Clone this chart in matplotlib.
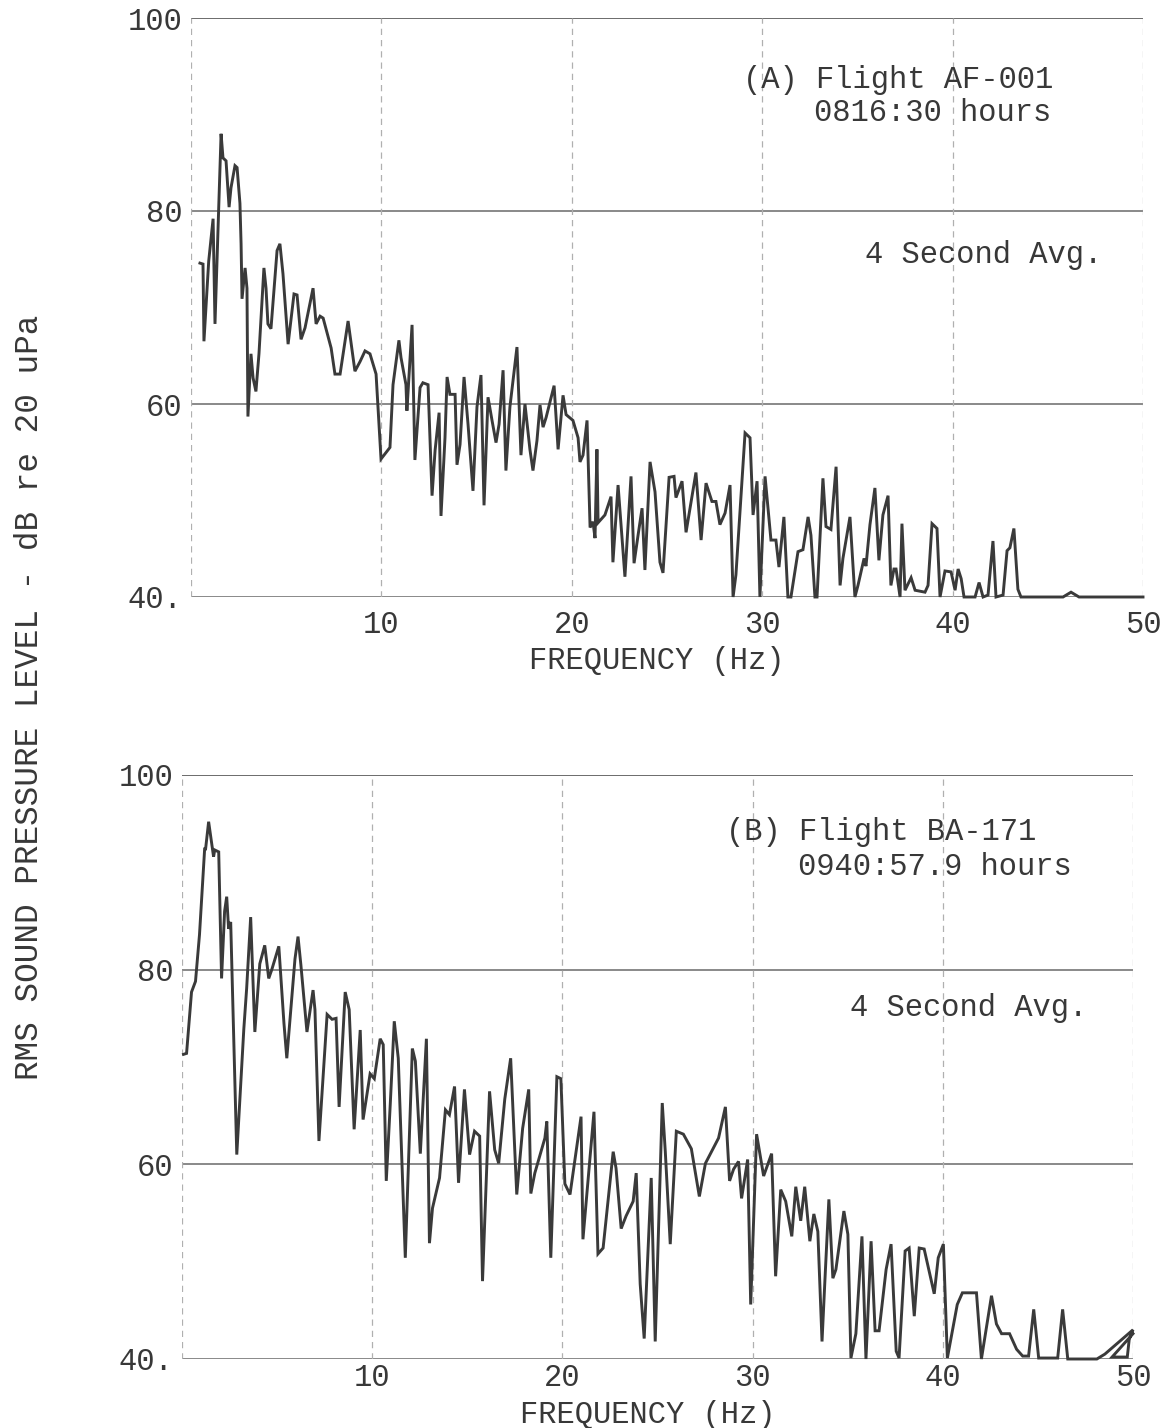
import matplotlib
matplotlib.use("Agg")
import matplotlib.pyplot as plt

# --- spectrum (A): Flight AF-001, 0816:30 hours ---
freq_a = [0.47, 0.63, 0.68, 0.93, 1.16, 1.26, 1.58, 1.68, 1.84, 2.0, 2.1, 2.31, 2.42, 2.57, 2.63,
          2.68, 2.84, 2.94, 2.99, 3.15, 3.26, 3.41, 3.57, 3.83, 3.94, 4.04, 4.2, 4.52, 4.67, 4.83,
          5.1, 5.41, 5.57, 5.78, 5.99, 6.41, 6.57, 6.78, 6.94, 7.36, 7.56, 7.83, 8.25, 8.61, 8.88,
          9.14, 9.4, 9.72, 9.98,
          10.45, 10.61, 10.92, 11.03, 11.29, 11.34, 11.61, 11.76, 12.03, 12.18, 12.45, 12.66, 12.82,
          13.03, 13.13, 13.34, 13.45, 13.6, 13.87, 13.97, 14.13, 14.34, 14.55, 14.81, 15.02, 15.23,
          15.39, 15.6, 15.81, 16.02, 16.18, 16.39, 16.54, 16.75, 17.12, 17.33, 17.54, 17.8, 17.96,
          18.17, 18.33, 18.49, 18.65, 19.07, 19.28, 19.54, 19.7, 20.06,
          20.33, 20.43, 20.59, 20.8, 20.96, 21.11, 21.22, 21.32, 21.38, 21.74, 22.06, 22.16, 22.43,
          22.79, 23.11, 23.27, 23.48, 23.69, 23.84, 24.11, 24.37, 24.63, 24.79, 25.11, 25.37, 25.47,
          25.79, 26.0, 26.52, 26.79, 27.05, 27.36, 27.57, 27.78, 28.05, 28.31, 28.47, 28.62, 29.1,
          29.36, 29.52, 29.73, 29.88, 30.15,
          30.46, 30.72, 30.88, 31.14, 31.35, 31.51, 31.88, 32.14, 32.41, 32.56, 32.77, 32.88, 33.19,
          33.35, 33.61, 33.88, 34.09, 34.24, 34.61, 34.87, 35.03, 35.35, 35.45, 35.66, 35.92, 36.13,
          36.34, 36.61, 36.76, 36.92, 37.03, 37.24, 37.34, 37.5, 37.82, 38.03, 38.55, 38.71, 38.92,
          39.18, 39.34, 39.6,
          39.92, 40.13, 40.29, 40.45, 40.6, 41.18, 41.39, 41.6, 41.86, 42.12, 42.28, 42.65, 42.86,
          43.01, 43.22, 43.43, 43.59, 45.8, 46.22, 46.64, 50.0]
level_a = [74.6, 74.5, 66.5, 74.8, 79.2, 68.3, 88.0, 85.5, 85.2, 80.4, 82.4, 84.7, 84.5, 80.8, 76.6,
           70.9, 74.1, 72.0, 58.7, 65.2, 62.7, 61.3, 65.2, 74.1, 72.0, 68.3, 67.8, 75.9, 76.6, 73.5,
           66.2, 71.4, 71.3, 66.7, 67.9, 72.0, 68.3, 69.1, 68.9, 65.8, 63.1, 63.1, 68.6, 63.4, 64.4,
           65.5, 65.2, 63.1, 54.3,
           55.5, 62.0, 66.6, 64.8, 62.0, 59.3, 68.2, 54.2, 61.7, 62.2, 62.0, 50.5, 55.2,
           59.1, 48.4, 56.5, 62.8, 61.0, 61.0, 53.7, 55.8, 62.8, 57.9, 51.0, 59.7, 63.0,
           49.5, 60.7, 58.3, 56.0, 57.9, 63.5, 53.1, 59.7, 65.9, 54.7, 60.0, 55.3, 53.1,
           56.2, 59.9, 57.6, 58.6, 61.9, 55.3, 60.9, 58.9, 58.3,
           56.5, 54.0, 54.7, 58.3, 47.2, 47.8, 46.1, 55.3, 47.7, 48.5, 50.4, 43.6, 51.6,
           42.1, 52.5, 43.5, 46.4, 49.2, 42.8, 54.0, 50.9, 43.6, 42.5, 52.4, 52.5, 50.3,
           52.0, 46.7, 52.9, 45.9, 51.8, 49.9, 49.9, 47.5, 48.7, 51.6, 40.0, 42.3, 57.0,
           56.5, 48.5, 52.0, 40.0, 52.5,
           45.9, 45.9, 43.1, 48.3, 40.0, 40.0, 44.7, 44.9, 48.3, 46.4, 40.0, 40.0, 52.3,
           47.3, 47.0, 53.5, 41.2, 44.0, 48.3, 40.0, 41.2, 44.0, 43.2, 47.5, 51.3, 43.8,
           48.5, 50.5, 41.2, 42.9, 42.9, 40.0, 47.6, 40.7, 42.0, 40.7, 40.5, 41.2, 47.6,
           47.1, 40.0, 42.7,
           42.6, 40.7, 42.9, 41.9, 40.0, 40.0, 41.5, 40.0, 40.2, 45.8, 40.0, 40.2, 44.8,
           45.1, 47.1, 40.8, 40.0, 40.0, 40.5, 40.0, 40.0]

# --- spectrum (B): Flight BA-171, 0940:57.9 hours ---
freq_b = [0.08, 0.24, 0.5, 0.71, 0.92, 1.19, 1.24, 1.4, 1.66, 1.72, 1.93, 2.08, 2.24, 2.35, 2.45,
          2.56, 2.88, 3.25, 3.4, 3.61, 3.83, 4.09, 4.35, 4.56, 4.72, 5.09, 5.36, 5.51, 5.94, 6.1,
          6.25, 6.57, 6.89, 6.99, 7.2, 7.63, 7.89, 8.1, 8.26, 8.58, 8.79, 9.05, 9.37, 9.52, 9.89,
          10.11, 10.42, 10.58, 10.74, 10.95, 11.16, 11.37, 11.74, 12.11, 12.27, 12.53, 12.85, 13.01,
          13.17, 13.54, 13.85, 14.06, 14.33, 14.54, 14.85, 15.12, 15.38, 15.65, 15.8, 16.17, 16.44,
          16.65, 16.97, 17.28, 17.6, 17.91, 18.23, 18.34, 18.55, 19.08, 19.18, 19.39, 19.71, 19.92,
          20.13, 20.4, 20.98, 21.08, 21.66, 21.87, 22.14, 22.67, 22.82, 23.09, 23.35, 23.72, 23.88,
          24.09, 24.3, 24.67, 24.88, 25.25, 25.41, 25.67, 25.99, 26.36, 26.78, 27.2, 27.52, 28.21,
          28.57, 28.79, 29.0, 29.26, 29.42, 29.74, 29.9, 30.21,
          30.58, 31.0, 31.21, 31.48, 31.74, 32.06, 32.27, 32.53, 32.74, 33.01, 33.22, 33.43, 33.65,
          33.8, 34.01, 34.22, 34.38, 34.8, 35.01, 35.17, 35.43, 35.75, 35.96, 36.23, 36.44, 36.65,
          37.02, 37.28, 37.55, 37.7, 38.02, 38.23, 38.5, 38.76, 39.02, 39.55, 39.76, 40.03, 40.24,
          40.76, 41.03, 41.77, 42.03, 42.56, 42.82, 43.09, 43.51, 43.88, 44.2, 44.51, 44.78, 45.04,
          46.04, 46.3, 46.57, 48.1, 48.52, 50.0, 49.8, 49.7, 48.9, 49.5, 50.0]
level_b = [71.3, 71.4, 77.7, 78.8, 83.6, 92.4, 92.4, 95.2, 91.6, 92.3, 92.1, 79.1, 86.0, 87.5, 84.2,
           84.9, 61.0, 73.9, 78.1, 85.4, 73.6, 80.6, 82.5, 79.1, 80.0, 82.4, 74.5, 70.9, 81.1, 83.4,
           80.5, 73.6, 77.9, 75.9, 62.4, 75.4, 74.9, 75.0, 65.9, 77.7, 75.9, 63.6, 73.8, 64.6, 69.3,
           68.8, 72.9, 72.3, 58.3, 66.2, 74.7, 70.9, 50.4, 71.9, 70.6, 61.1, 72.9, 51.9,
           55.5, 58.6, 65.6, 65.1, 68.0, 58.1, 67.7, 61.0, 63.4, 62.9, 48.0, 67.5, 61.5,
           60.1, 66.7, 70.9, 56.9, 63.7, 67.7, 57.0, 59.1, 62.7, 64.4, 50.4, 69.0, 68.8,
           58.0, 56.9, 64.9, 52.3, 65.4, 50.8, 51.4, 61.3, 59.6, 53.4, 54.7, 56.2, 59.1,
           47.7, 42.1, 58.6, 41.8, 66.3, 61.3, 51.8, 63.4, 63.1, 61.6, 56.7, 60.1, 62.7,
           65.9, 58.3, 59.5, 60.3, 56.5, 60.5, 45.6, 63.1,
           58.8, 61.1, 48.5, 57.4, 56.2, 52.6, 57.7, 54.2, 57.7, 52.1, 54.9, 53.1, 41.8,
           48.0, 56.4, 48.3, 49.2, 55.2, 52.8, 40.1, 42.6, 52.6, 40.0, 52.1, 42.9, 42.9,
           49.2, 51.8, 40.8, 40.1, 51.1, 51.4, 44.4, 51.4, 51.3, 46.7, 50.4, 51.8, 40.1,
           45.6, 46.8, 46.8, 40.0, 46.5, 43.6, 42.6, 42.6, 41.0, 40.3, 40.3, 45.1, 40.1,
           40.1, 45.1, 40.0, 40.0, 40.5, 43.0, 42.0, 40.2, 40.2, 41.5, 42.6]

x_ticks = [10, 20, 30, 40, 50]
y_ticks = [40, 60, 80, 100]
y_tick_labels = ["40.", "60", "80", "100"]

FONT = "Liberation Mono"
INK = "#3a3a3a"
TXT = "#383838"
FS = 22
W, H = 1163, 1428

fig = plt.figure(figsize=(W / 100, H / 100), dpi=100)
fig.patch.set_facecolor("white")


def px_axes(x0, x50, y100, y40):
    # axes box from pixel positions of the 0/50 Hz and 100/40 dB lines
    return fig.add_axes([x0 / W, 1 - y40 / H, (x50 - x0) / W, (y40 - y100) / H])


def draw_panel(ax, freq, level, notes, xpad):
    ax.set_xlim(0, 50)
    ax.set_ylim(40, 100)
    for s in ax.spines.values():
        s.set_visible(False)
    for yv in y_ticks:
        ax.axhline(yv, color="#6a6a6a" if yv != 100 else "#444444", lw=1.1, zorder=1)
    for xv in [0] + x_ticks:
        ax.axvline(xv, color="#b0b0b0", lw=0.9, ls=(0, (5, 4)), zorder=1)
    ax.plot(freq, level, color=INK, lw=2.1, solid_joinstyle="miter", zorder=3, clip_on=False)
    ax.set_xticks(x_ticks)
    ax.set_xticklabels([str(t) for t in x_ticks])
    ax.set_yticks(y_ticks)
    ax.set_yticklabels(y_tick_labels)
    ax.tick_params(length=0, labelsize=FS, labelcolor=TXT, pad=6)
    ax.tick_params(axis="x", pad=xpad)
    for lab in ax.get_xticklabels() + ax.get_yticklabels():
        lab.set_fontfamily(FONT)
    for x, y, s in notes:
        ax.text(x, y, s, fontsize=FS, family=FONT, color=TXT, va="center", ha="left")


ax_a = px_axes(191, 1143, 18, 597)
draw_panel(ax_a, freq_a, level_a,
           [(29.0, 93.6, "(A) Flight AF-001"),
            (32.7, 90.2, "0816:30 hours"),
            (35.4, 75.4, "4 Second Avg.")], xpad=9)

ax_b = px_axes(182, 1133, 775, 1359)
draw_panel(ax_b, freq_b, level_b,
           [(28.6, 94.1, "(B) Flight BA-171"),
            (32.4, 90.5, "0940:57.9 hours"),
            (35.1, 76.1, "4 Second Avg.")], xpad=3)

fig.text(657 / W, 1 - 661 / H, "FREQUENCY (Hz)", ha="center", va="center",
         fontsize=FS, family=FONT, color=TXT)
fig.text(648 / W, 1 - 1415 / H, "FREQUENCY (Hz)", ha="center", va="center",
         fontsize=FS, family=FONT, color=TXT)
fig.text(30 / W, 1 - 697 / H, "RMS SOUND PRESSURE LEVEL - dB re 20 uPa", rotation=90,
         ha="center", va="center", fontsize=23.5, family=FONT, color=TXT)

fig.savefig("out.png", dpi=100, facecolor="white")
